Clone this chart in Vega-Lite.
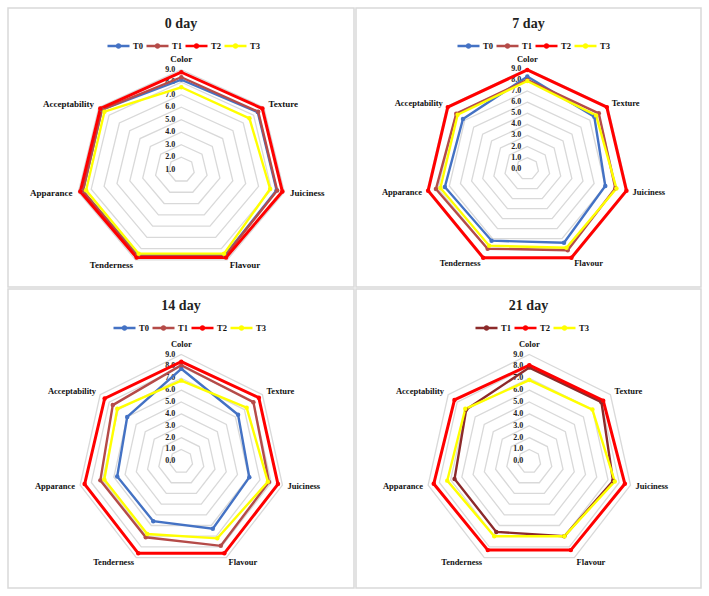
{
  "$schema": "https://vega.github.io/schema/vega-lite/v6.json",
  "background": "white",
  "padding": {"left": 7, "top": 7, "right": 0, "bottom": 0},
  "datasets": {
    "grid": [
      {"level": 0, "attr": ["Color","Texture","Juiciness","Flavour","Tenderness","Apparance","Acceptability"]},
      {"level": 1, "attr": ["Color","Texture","Juiciness","Flavour","Tenderness","Apparance","Acceptability"]},
      {"level": 2, "attr": ["Color","Texture","Juiciness","Flavour","Tenderness","Apparance","Acceptability"]},
      {"level": 3, "attr": ["Color","Texture","Juiciness","Flavour","Tenderness","Apparance","Acceptability"]},
      {"level": 4, "attr": ["Color","Texture","Juiciness","Flavour","Tenderness","Apparance","Acceptability"]},
      {"level": 5, "attr": ["Color","Texture","Juiciness","Flavour","Tenderness","Apparance","Acceptability"]},
      {"level": 6, "attr": ["Color","Texture","Juiciness","Flavour","Tenderness","Apparance","Acceptability"]},
      {"level": 7, "attr": ["Color","Texture","Juiciness","Flavour","Tenderness","Apparance","Acceptability"]},
      {"level": 8, "attr": ["Color","Texture","Juiciness","Flavour","Tenderness","Apparance","Acceptability"]},
      {"level": 9, "attr": ["Color","Texture","Juiciness","Flavour","Tenderness","Apparance","Acceptability"]}
    ],
    "scores": [
      {"day": "0 day", "t": "T0", "attr": "Color", "value": 8.2},
      {"day": "0 day", "t": "T0", "attr": "Texture", "value": 8.4},
      {"day": "0 day", "t": "T0", "attr": "Juiciness", "value": 8.4},
      {"day": "0 day", "t": "T0", "attr": "Flavour", "value": 8.6},
      {"day": "0 day", "t": "T0", "attr": "Tenderness", "value": 8.6},
      {"day": "0 day", "t": "T0", "attr": "Apparance", "value": 8.65},
      {"day": "0 day", "t": "T0", "attr": "Acceptability", "value": 8.7},
      {"day": "0 day", "t": "T1", "attr": "Color", "value": 8.4},
      {"day": "0 day", "t": "T1", "attr": "Texture", "value": 8.45},
      {"day": "0 day", "t": "T1", "attr": "Juiciness", "value": 8.45},
      {"day": "0 day", "t": "T1", "attr": "Flavour", "value": 8.65},
      {"day": "0 day", "t": "T1", "attr": "Tenderness", "value": 8.65},
      {"day": "0 day", "t": "T1", "attr": "Apparance", "value": 8.65},
      {"day": "0 day", "t": "T1", "attr": "Acceptability", "value": 8.7},
      {"day": "0 day", "t": "T2", "attr": "Color", "value": 8.8},
      {"day": "0 day", "t": "T2", "attr": "Texture", "value": 8.85},
      {"day": "0 day", "t": "T2", "attr": "Juiciness", "value": 8.85},
      {"day": "0 day", "t": "T2", "attr": "Flavour", "value": 8.8},
      {"day": "0 day", "t": "T2", "attr": "Tenderness", "value": 8.8},
      {"day": "0 day", "t": "T2", "attr": "Apparance", "value": 8.85},
      {"day": "0 day", "t": "T2", "attr": "Acceptability", "value": 8.85},
      {"day": "0 day", "t": "T3", "attr": "Color", "value": 7.6},
      {"day": "0 day", "t": "T3", "attr": "Texture", "value": 7.6},
      {"day": "0 day", "t": "T3", "attr": "Juiciness", "value": 7.9},
      {"day": "0 day", "t": "T3", "attr": "Flavour", "value": 8.45},
      {"day": "0 day", "t": "T3", "attr": "Tenderness", "value": 8.45},
      {"day": "0 day", "t": "T3", "attr": "Apparance", "value": 8.4},
      {"day": "0 day", "t": "T3", "attr": "Acceptability", "value": 8.45},

      {"day": "7 day", "t": "T0", "attr": "Color", "value": 8.3},
      {"day": "7 day", "t": "T0", "attr": "Texture", "value": 7.5},
      {"day": "7 day", "t": "T0", "attr": "Juiciness", "value": 7.0},
      {"day": "7 day", "t": "T0", "attr": "Flavour", "value": 7.4},
      {"day": "7 day", "t": "T0", "attr": "Tenderness", "value": 7.2},
      {"day": "7 day", "t": "T0", "attr": "Apparance", "value": 7.4},
      {"day": "7 day", "t": "T0", "attr": "Acceptability", "value": 7.2},
      {"day": "7 day", "t": "T1", "attr": "Color", "value": 8.0},
      {"day": "7 day", "t": "T1", "attr": "Texture", "value": 8.0},
      {"day": "7 day", "t": "T1", "attr": "Juiciness", "value": 7.9},
      {"day": "7 day", "t": "T1", "attr": "Flavour", "value": 8.15},
      {"day": "7 day", "t": "T1", "attr": "Tenderness", "value": 8.0},
      {"day": "7 day", "t": "T1", "attr": "Apparance", "value": 8.2},
      {"day": "7 day", "t": "T1", "attr": "Acceptability", "value": 7.95},
      {"day": "7 day", "t": "T2", "attr": "Color", "value": 8.9},
      {"day": "7 day", "t": "T2", "attr": "Texture", "value": 8.9},
      {"day": "7 day", "t": "T2", "attr": "Juiciness", "value": 8.9},
      {"day": "7 day", "t": "T2", "attr": "Flavour", "value": 8.9},
      {"day": "7 day", "t": "T2", "attr": "Tenderness", "value": 8.9},
      {"day": "7 day", "t": "T2", "attr": "Apparance", "value": 8.9},
      {"day": "7 day", "t": "T2", "attr": "Acceptability", "value": 8.9},
      {"day": "7 day", "t": "T3", "attr": "Color", "value": 7.9},
      {"day": "7 day", "t": "T3", "attr": "Texture", "value": 7.7},
      {"day": "7 day", "t": "T3", "attr": "Juiciness", "value": 8.0},
      {"day": "7 day", "t": "T3", "attr": "Flavour", "value": 7.9},
      {"day": "7 day", "t": "T3", "attr": "Tenderness", "value": 7.7},
      {"day": "7 day", "t": "T3", "attr": "Apparance", "value": 7.8},
      {"day": "7 day", "t": "T3", "attr": "Acceptability", "value": 7.8},

      {"day": "14 day", "t": "T0", "attr": "Color", "value": 7.8},
      {"day": "14 day", "t": "T0", "attr": "Texture", "value": 6.3},
      {"day": "14 day", "t": "T0", "attr": "Juiciness", "value": 6.05},
      {"day": "14 day", "t": "T0", "attr": "Flavour", "value": 6.3},
      {"day": "14 day", "t": "T0", "attr": "Tenderness", "value": 5.6},
      {"day": "14 day", "t": "T0", "attr": "Apparance", "value": 5.7},
      {"day": "14 day", "t": "T0", "attr": "Acceptability", "value": 6.0},
      {"day": "14 day", "t": "T1", "attr": "Color", "value": 8.1},
      {"day": "14 day", "t": "T1", "attr": "Texture", "value": 8.0},
      {"day": "14 day", "t": "T1", "attr": "Juiciness", "value": 7.8},
      {"day": "14 day", "t": "T1", "attr": "Flavour", "value": 7.9},
      {"day": "14 day", "t": "T1", "attr": "Tenderness", "value": 7.1},
      {"day": "14 day", "t": "T1", "attr": "Apparance", "value": 7.2},
      {"day": "14 day", "t": "T1", "attr": "Acceptability", "value": 7.6},
      {"day": "14 day", "t": "T2", "attr": "Color", "value": 8.4},
      {"day": "14 day", "t": "T2", "attr": "Texture", "value": 8.6},
      {"day": "14 day", "t": "T2", "attr": "Juiciness", "value": 8.6},
      {"day": "14 day", "t": "T2", "attr": "Flavour", "value": 8.6},
      {"day": "14 day", "t": "T2", "attr": "Tenderness", "value": 8.6},
      {"day": "14 day", "t": "T2", "attr": "Apparance", "value": 8.6},
      {"day": "14 day", "t": "T2", "attr": "Acceptability", "value": 8.5},
      {"day": "14 day", "t": "T3", "attr": "Color", "value": 6.8},
      {"day": "14 day", "t": "T3", "attr": "Texture", "value": 7.25},
      {"day": "14 day", "t": "T3", "attr": "Juiciness", "value": 7.7},
      {"day": "14 day", "t": "T3", "attr": "Flavour", "value": 7.2},
      {"day": "14 day", "t": "T3", "attr": "Tenderness", "value": 6.8},
      {"day": "14 day", "t": "T3", "attr": "Apparance", "value": 6.85},
      {"day": "14 day", "t": "T3", "attr": "Acceptability", "value": 7.1},

      {"day": "21 day", "t": "T1", "attr": "Color", "value": 7.9},
      {"day": "21 day", "t": "T1", "attr": "Texture", "value": 8.0},
      {"day": "21 day", "t": "T1", "attr": "Juiciness", "value": 7.45},
      {"day": "21 day", "t": "T1", "attr": "Flavour", "value": 7.0},
      {"day": "21 day", "t": "T1", "attr": "Tenderness", "value": 6.6},
      {"day": "21 day", "t": "T1", "attr": "Apparance", "value": 6.65},
      {"day": "21 day", "t": "T1", "attr": "Acceptability", "value": 7.0},
      {"day": "21 day", "t": "T2", "attr": "Color", "value": 8.1},
      {"day": "21 day", "t": "T2", "attr": "Texture", "value": 8.2},
      {"day": "21 day", "t": "T2", "attr": "Juiciness", "value": 8.5},
      {"day": "21 day", "t": "T2", "attr": "Flavour", "value": 8.3},
      {"day": "21 day", "t": "T2", "attr": "Tenderness", "value": 8.3},
      {"day": "21 day", "t": "T2", "attr": "Apparance", "value": 8.5},
      {"day": "21 day", "t": "T2", "attr": "Acceptability", "value": 8.3},
      {"day": "21 day", "t": "T3", "attr": "Color", "value": 6.85},
      {"day": "21 day", "t": "T3", "attr": "Texture", "value": 7.0},
      {"day": "21 day", "t": "T3", "attr": "Juiciness", "value": 7.6},
      {"day": "21 day", "t": "T3", "attr": "Flavour", "value": 7.0},
      {"day": "21 day", "t": "T3", "attr": "Tenderness", "value": 7.0},
      {"day": "21 day", "t": "T3", "attr": "Apparance", "value": 7.3},
      {"day": "21 day", "t": "T3", "attr": "Acceptability", "value": 7.1}
    ]
  },
  "columns": 2,
  "spacing": 0,
  "resolve": {"scale": {"x": "independent", "y": "independent", "color": "independent"}, "legend": {"color": "independent"}},
  "concat": [
    {
      "width": 346, "height": 279,
      "title": {"text": "0 day", "offset": -23},
      "encoding": {
        "x": {"field": "px", "type": "quantitative", "scale": {"domain": [-13.13, 13.08], "nice": false, "zero": false}, "axis": null},
        "y": {"field": "py", "type": "quantitative", "scale": {"domain": [-9.38, 12.94], "nice": false, "zero": false}, "axis": null}
      },
      "layer": [
        {"data": {"name": "grid"}, "transform": [{"flatten": ["attr"]}, {"filter": "datum.level > 1"}, {"calculate": "indexof(['Color','Texture','Juiciness','Flavour','Tenderness','Apparance','Acceptability'], datum.attr)", "as": "idx"}, {"calculate": "(datum.level - 1) * sin(datum.idx * 2 * PI / 7)", "as": "px"}, {"calculate": "(datum.level - 1) * cos(datum.idx * 2 * PI / 7)", "as": "py"}],
         "mark": {"type": "line", "interpolate": "linear-closed", "stroke": "#d9d9d9", "strokeWidth": 1.3},
         "encoding": {"detail": {"field": "level", "type": "nominal"}, "order": {"field": "idx", "type": "quantitative"}}},
        {"data": {"name": "grid"}, "transform": [{"filter": "datum.level >= 1"}, {"calculate": "0", "as": "px"}, {"calculate": "datum.level - 1", "as": "py"}],
         "mark": {"type": "text", "align": "right", "baseline": "middle", "dx": -6, "fontSize": 8, "fontWeight": "bold", "font": "Liberation Serif", "fill": "#222"},
         "encoding": {"text": {"field": "level", "type": "quantitative", "format": ".1f"}}},
        {"data": {"name": "grid"}, "transform": [{"filter": "datum.level == 9"}, {"flatten": ["attr"]}, {"filter": "indexof(['Texture','Juiciness','Flavour'], datum.attr) >= 0"}, {"calculate": "indexof(['Color','Texture','Juiciness','Flavour','Tenderness','Apparance','Acceptability'], datum.attr)", "as": "idx"}, {"calculate": "(datum.level + 0.45 - 1) * sin(datum.idx * 2 * PI / 7)", "as": "px"}, {"calculate": "(datum.level + 0.45 - 1) * cos(datum.idx * 2 * PI / 7)", "as": "py"}],
         "mark": {"type": "text", "align": "left", "baseline": "middle", "fontSize": 9, "fontWeight": "bold", "font": "Liberation Serif", "fill": "#111"},
         "encoding": {"text": {"field": "attr"}}},
        {"data": {"name": "grid"}, "transform": [{"filter": "datum.level == 9"}, {"flatten": ["attr"]}, {"filter": "indexof(['Tenderness','Apparance','Acceptability'], datum.attr) >= 0"}, {"calculate": "indexof(['Color','Texture','Juiciness','Flavour','Tenderness','Apparance','Acceptability'], datum.attr)", "as": "idx"}, {"calculate": "(datum.level + 0.45 - 1) * sin(datum.idx * 2 * PI / 7)", "as": "px"}, {"calculate": "(datum.level + 0.45 - 1) * cos(datum.idx * 2 * PI / 7)", "as": "py"}],
         "mark": {"type": "text", "align": "right", "baseline": "middle", "fontSize": 9, "fontWeight": "bold", "font": "Liberation Serif", "fill": "#111"},
         "encoding": {"text": {"field": "attr"}}},
        {"data": {"name": "grid"}, "transform": [{"filter": "datum.level == 9"}, {"flatten": ["attr"]}, {"filter": "datum.attr === 'Color'"}, {"calculate": "0", "as": "px"}, {"calculate": "datum.level + 0.45 - 1", "as": "py"}],
         "mark": {"type": "text", "align": "center", "baseline": "bottom", "fontSize": 9, "fontWeight": "bold", "font": "Liberation Serif", "fill": "#111"},
         "encoding": {"text": {"field": "attr"}}},
        {"data": {"name": "scores"}, "transform": [{"filter": "datum.day === '0 day'"}, {"calculate": "indexof(['Color','Texture','Juiciness','Flavour','Tenderness','Apparance','Acceptability'], datum.attr)", "as": "idx"}, {"calculate": "(datum.value - 1) * sin(datum.idx * 2 * PI / 7)", "as": "px"}, {"calculate": "(datum.value - 1) * cos(datum.idx * 2 * PI / 7)", "as": "py"}],
         "mark": {"type": "line", "interpolate": "linear-closed", "point": {"filled": true, "size": 20}},
         "encoding": {
           "color": {"field": "t", "type": "nominal", "scale": {"domain": ["T0","T1","T2","T3"], "range": ["#4472C4","#B54B48","#FF0000","#FFFF00"]}, "legend": {"title": null, "orient": "none", "legendX": 98, "legendY": 25, "direction": "horizontal"}},
           "order": {"field": "idx", "type": "quantitative"},
           "strokeWidth": {"condition": {"test": "datum.t === 'T2'", "value": 3}, "value": 2.4}
         }}
      ]
    },
    {
      "width": 345, "height": 279,
      "title": {"text": "7 day", "offset": -23},
      "encoding": {
        "x": {"field": "px", "type": "quantitative", "scale": {"domain": [-14.99, 15.2], "nice": false, "zero": false}, "axis": null},
        "y": {"field": "py", "type": "quantitative", "scale": {"domain": [-10.66, 14.48], "nice": false, "zero": false}, "axis": null}
      },
      "layer": [
        {"data": {"name": "grid"}, "transform": [{"flatten": ["attr"]}, {"filter": "datum.level > 0"}, {"calculate": "indexof(['Color','Texture','Juiciness','Flavour','Tenderness','Apparance','Acceptability'], datum.attr)", "as": "idx"}, {"calculate": "datum.level * sin(datum.idx * 2 * PI / 7)", "as": "px"}, {"calculate": "datum.level * cos(datum.idx * 2 * PI / 7)", "as": "py"}],
         "mark": {"type": "line", "interpolate": "linear-closed", "stroke": "#d9d9d9", "strokeWidth": 1.3},
         "encoding": {"detail": {"field": "level", "type": "nominal"}, "order": {"field": "idx", "type": "quantitative"}}},
        {"data": {"name": "grid"}, "transform": [{"calculate": "0", "as": "px"}, {"calculate": "datum.level", "as": "py"}],
         "mark": {"type": "text", "align": "right", "baseline": "middle", "dx": -6, "fontSize": 8, "fontWeight": "bold", "font": "Liberation Serif", "fill": "#222"},
         "encoding": {"text": {"field": "level", "type": "quantitative", "format": ".1f"}}},
        {"data": {"name": "grid"}, "transform": [{"filter": "datum.level == 9"}, {"flatten": ["attr"]}, {"filter": "indexof(['Texture','Juiciness','Flavour'], datum.attr) >= 0"}, {"calculate": "indexof(['Color','Texture','Juiciness','Flavour','Tenderness','Apparance','Acceptability'], datum.attr)", "as": "idx"}, {"calculate": "(datum.level + 0.45) * sin(datum.idx * 2 * PI / 7)", "as": "px"}, {"calculate": "(datum.level + 0.45) * cos(datum.idx * 2 * PI / 7)", "as": "py"}],
         "mark": {"type": "text", "align": "left", "baseline": "middle", "fontSize": 8.5, "fontWeight": "bold", "font": "Liberation Serif", "fill": "#111"},
         "encoding": {"text": {"field": "attr"}}},
        {"data": {"name": "grid"}, "transform": [{"filter": "datum.level == 9"}, {"flatten": ["attr"]}, {"filter": "indexof(['Tenderness','Apparance','Acceptability'], datum.attr) >= 0"}, {"calculate": "indexof(['Color','Texture','Juiciness','Flavour','Tenderness','Apparance','Acceptability'], datum.attr)", "as": "idx"}, {"calculate": "(datum.level + 0.45) * sin(datum.idx * 2 * PI / 7)", "as": "px"}, {"calculate": "(datum.level + 0.45) * cos(datum.idx * 2 * PI / 7)", "as": "py"}],
         "mark": {"type": "text", "align": "right", "baseline": "middle", "fontSize": 8.5, "fontWeight": "bold", "font": "Liberation Serif", "fill": "#111"},
         "encoding": {"text": {"field": "attr"}}},
        {"data": {"name": "grid"}, "transform": [{"filter": "datum.level == 9"}, {"flatten": ["attr"]}, {"filter": "datum.attr === 'Color'"}, {"calculate": "0", "as": "px"}, {"calculate": "datum.level + 0.45", "as": "py"}],
         "mark": {"type": "text", "align": "center", "baseline": "bottom", "fontSize": 8.5, "fontWeight": "bold", "font": "Liberation Serif", "fill": "#111"},
         "encoding": {"text": {"field": "attr"}}},
        {"data": {"name": "scores"}, "transform": [{"filter": "datum.day === '7 day'"}, {"calculate": "indexof(['Color','Texture','Juiciness','Flavour','Tenderness','Apparance','Acceptability'], datum.attr)", "as": "idx"}, {"calculate": "datum.value * sin(datum.idx * 2 * PI / 7)", "as": "px"}, {"calculate": "datum.value * cos(datum.idx * 2 * PI / 7)", "as": "py"}],
         "mark": {"type": "line", "interpolate": "linear-closed", "point": {"filled": true, "size": 20}},
         "encoding": {
           "color": {"field": "t", "type": "nominal", "scale": {"domain": ["T0","T1","T2","T3"], "range": ["#4472C4","#B54B48","#FF0000","#FFFF00"]}, "legend": {"title": null, "orient": "none", "legendX": 100, "legendY": 25, "direction": "horizontal"}},
           "order": {"field": "idx", "type": "quantitative"},
           "strokeWidth": {"condition": {"test": "datum.t === 'T2'", "value": 3}, "value": 2.4}
         }}
      ]
    },
    {
      "width": 346, "height": 299,
      "title": {"text": "14 day", "offset": -24},
      "encoding": {
        "x": {"field": "px", "type": "quantitative", "scale": {"domain": [-15.03, 14.98], "nice": false, "zero": false}, "axis": null},
        "y": {"field": "py", "type": "quantitative", "scale": {"domain": [-10.67, 14.52], "nice": false, "zero": false}, "axis": null}
      },
      "layer": [
        {"data": {"name": "grid"}, "transform": [{"flatten": ["attr"]}, {"filter": "datum.level > 0"}, {"calculate": "indexof(['Color','Texture','Juiciness','Flavour','Tenderness','Apparance','Acceptability'], datum.attr)", "as": "idx"}, {"calculate": "datum.level * sin(datum.idx * 2 * PI / 7)", "as": "px"}, {"calculate": "datum.level * cos(datum.idx * 2 * PI / 7)", "as": "py"}],
         "mark": {"type": "line", "interpolate": "linear-closed", "stroke": "#d9d9d9", "strokeWidth": 1.3},
         "encoding": {"detail": {"field": "level", "type": "nominal"}, "order": {"field": "idx", "type": "quantitative"}}},
        {"data": {"name": "grid"}, "transform": [{"calculate": "0", "as": "px"}, {"calculate": "datum.level", "as": "py"}],
         "mark": {"type": "text", "align": "right", "baseline": "middle", "dx": -6, "fontSize": 8, "fontWeight": "bold", "font": "Liberation Serif", "fill": "#222"},
         "encoding": {"text": {"field": "level", "type": "quantitative", "format": ".1f"}}},
        {"data": {"name": "grid"}, "transform": [{"filter": "datum.level == 9"}, {"flatten": ["attr"]}, {"filter": "indexof(['Texture','Juiciness','Flavour'], datum.attr) >= 0"}, {"calculate": "indexof(['Color','Texture','Juiciness','Flavour','Tenderness','Apparance','Acceptability'], datum.attr)", "as": "idx"}, {"calculate": "(datum.level + 0.45) * sin(datum.idx * 2 * PI / 7)", "as": "px"}, {"calculate": "(datum.level + 0.45) * cos(datum.idx * 2 * PI / 7)", "as": "py"}],
         "mark": {"type": "text", "align": "left", "baseline": "middle", "fontSize": 8.5, "fontWeight": "bold", "font": "Liberation Serif", "fill": "#111"},
         "encoding": {"text": {"field": "attr"}}},
        {"data": {"name": "grid"}, "transform": [{"filter": "datum.level == 9"}, {"flatten": ["attr"]}, {"filter": "indexof(['Tenderness','Apparance','Acceptability'], datum.attr) >= 0"}, {"calculate": "indexof(['Color','Texture','Juiciness','Flavour','Tenderness','Apparance','Acceptability'], datum.attr)", "as": "idx"}, {"calculate": "(datum.level + 0.45) * sin(datum.idx * 2 * PI / 7)", "as": "px"}, {"calculate": "(datum.level + 0.45) * cos(datum.idx * 2 * PI / 7)", "as": "py"}],
         "mark": {"type": "text", "align": "right", "baseline": "middle", "fontSize": 8.5, "fontWeight": "bold", "font": "Liberation Serif", "fill": "#111"},
         "encoding": {"text": {"field": "attr"}}},
        {"data": {"name": "grid"}, "transform": [{"filter": "datum.level == 9"}, {"flatten": ["attr"]}, {"filter": "datum.attr === 'Color'"}, {"calculate": "0", "as": "px"}, {"calculate": "datum.level + 0.45", "as": "py"}],
         "mark": {"type": "text", "align": "center", "baseline": "bottom", "fontSize": 8.5, "fontWeight": "bold", "font": "Liberation Serif", "fill": "#111"},
         "encoding": {"text": {"field": "attr"}}},
        {"data": {"name": "scores"}, "transform": [{"filter": "datum.day === '14 day'"}, {"calculate": "indexof(['Color','Texture','Juiciness','Flavour','Tenderness','Apparance','Acceptability'], datum.attr)", "as": "idx"}, {"calculate": "datum.value * sin(datum.idx * 2 * PI / 7)", "as": "px"}, {"calculate": "datum.value * cos(datum.idx * 2 * PI / 7)", "as": "py"}],
         "mark": {"type": "line", "interpolate": "linear-closed", "point": {"filled": true, "size": 20}},
         "encoding": {
           "color": {"field": "t", "type": "nominal", "scale": {"domain": ["T0","T1","T2","T3"], "range": ["#4472C4","#B54B48","#FF0000","#FFFF00"]}, "legend": {"title": null, "orient": "none", "legendX": 104, "legendY": 26, "direction": "horizontal"}},
           "order": {"field": "idx", "type": "quantitative"},
           "strokeWidth": {"condition": {"test": "datum.t === 'T2'", "value": 3}, "value": 2.4}
         }}
      ]
    },
    {
      "width": 345, "height": 299,
      "title": {"text": "21 day", "offset": -24},
      "encoding": {
        "x": {"field": "px", "type": "quantitative", "scale": {"domain": [-15.03, 14.89], "nice": false, "zero": false}, "axis": null},
        "y": {"field": "py", "type": "quantitative", "scale": {"domain": [-10.67, 14.52], "nice": false, "zero": false}, "axis": null}
      },
      "layer": [
        {"data": {"name": "grid"}, "transform": [{"flatten": ["attr"]}, {"filter": "datum.level > 0"}, {"calculate": "indexof(['Color','Texture','Juiciness','Flavour','Tenderness','Apparance','Acceptability'], datum.attr)", "as": "idx"}, {"calculate": "datum.level * sin(datum.idx * 2 * PI / 7)", "as": "px"}, {"calculate": "datum.level * cos(datum.idx * 2 * PI / 7)", "as": "py"}],
         "mark": {"type": "line", "interpolate": "linear-closed", "stroke": "#d9d9d9", "strokeWidth": 1.3},
         "encoding": {"detail": {"field": "level", "type": "nominal"}, "order": {"field": "idx", "type": "quantitative"}}},
        {"data": {"name": "grid"}, "transform": [{"calculate": "0", "as": "px"}, {"calculate": "datum.level", "as": "py"}],
         "mark": {"type": "text", "align": "right", "baseline": "middle", "dx": -6, "fontSize": 8, "fontWeight": "bold", "font": "Liberation Serif", "fill": "#222"},
         "encoding": {"text": {"field": "level", "type": "quantitative", "format": ".1f"}}},
        {"data": {"name": "grid"}, "transform": [{"filter": "datum.level == 9"}, {"flatten": ["attr"]}, {"filter": "indexof(['Texture','Juiciness','Flavour'], datum.attr) >= 0"}, {"calculate": "indexof(['Color','Texture','Juiciness','Flavour','Tenderness','Apparance','Acceptability'], datum.attr)", "as": "idx"}, {"calculate": "(datum.level + 0.45) * sin(datum.idx * 2 * PI / 7)", "as": "px"}, {"calculate": "(datum.level + 0.45) * cos(datum.idx * 2 * PI / 7)", "as": "py"}],
         "mark": {"type": "text", "align": "left", "baseline": "middle", "fontSize": 8.5, "fontWeight": "bold", "font": "Liberation Serif", "fill": "#111"},
         "encoding": {"text": {"field": "attr"}}},
        {"data": {"name": "grid"}, "transform": [{"filter": "datum.level == 9"}, {"flatten": ["attr"]}, {"filter": "indexof(['Tenderness','Apparance','Acceptability'], datum.attr) >= 0"}, {"calculate": "indexof(['Color','Texture','Juiciness','Flavour','Tenderness','Apparance','Acceptability'], datum.attr)", "as": "idx"}, {"calculate": "(datum.level + 0.45) * sin(datum.idx * 2 * PI / 7)", "as": "px"}, {"calculate": "(datum.level + 0.45) * cos(datum.idx * 2 * PI / 7)", "as": "py"}],
         "mark": {"type": "text", "align": "right", "baseline": "middle", "fontSize": 8.5, "fontWeight": "bold", "font": "Liberation Serif", "fill": "#111"},
         "encoding": {"text": {"field": "attr"}}},
        {"data": {"name": "grid"}, "transform": [{"filter": "datum.level == 9"}, {"flatten": ["attr"]}, {"filter": "datum.attr === 'Color'"}, {"calculate": "0", "as": "px"}, {"calculate": "datum.level + 0.45", "as": "py"}],
         "mark": {"type": "text", "align": "center", "baseline": "bottom", "fontSize": 8.5, "fontWeight": "bold", "font": "Liberation Serif", "fill": "#111"},
         "encoding": {"text": {"field": "attr"}}},
        {"data": {"name": "scores"}, "transform": [{"filter": "datum.day === '21 day'"}, {"calculate": "indexof(['Color','Texture','Juiciness','Flavour','Tenderness','Apparance','Acceptability'], datum.attr)", "as": "idx"}, {"calculate": "datum.value * sin(datum.idx * 2 * PI / 7)", "as": "px"}, {"calculate": "datum.value * cos(datum.idx * 2 * PI / 7)", "as": "py"}],
         "mark": {"type": "line", "interpolate": "linear-closed", "point": {"filled": true, "size": 20}},
         "encoding": {
           "color": {"field": "t", "type": "nominal", "scale": {"domain": ["T1","T2","T3"], "range": ["#8C2A2A","#FF0000","#FFFF00"]}, "legend": {"title": null, "orient": "none", "legendX": 118, "legendY": 26, "direction": "horizontal"}},
           "order": {"field": "idx", "type": "quantitative"},
           "strokeWidth": {"condition": {"test": "datum.t === 'T2'", "value": 3}, "value": 2.4}
         }}
      ]
    }
  ],
  "config": {
    "view": {"stroke": "#d9d9d9", "strokeWidth": 1.5},
    "title": {"font": "Liberation Serif", "fontSize": 14, "fontWeight": "bold", "color": "#222", "anchor": "middle", "frame": "group"},
    "legend": {
      "symbolType": "M-1,0L1,0M-0.14,0A0.14,0.14,0,1,1,0.14,0A0.14,0.14,0,1,1,-0.14,0",
      "symbolSize": 484,
      "symbolStrokeWidth": 2.5,
      "labelFont": "Liberation Serif",
      "labelFontWeight": "bold",
      "labelFontSize": 8.5,
      "labelColor": "#111",
      "labelOffset": 2,
      "columnPadding": -2,
      "padding": 0
    }
  }
}
